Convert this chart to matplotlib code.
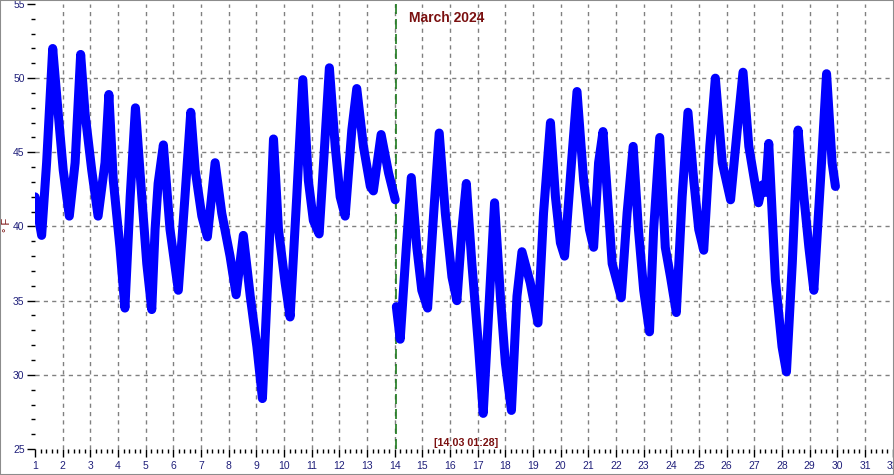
import matplotlib
matplotlib.use("Agg")
import matplotlib.pyplot as plt
from matplotlib.ticker import MultipleLocator
from matplotlib.patches import Rectangle

# ---- data (day of month, temperature in °F) ----
seg1_day = [1.00, 1.24, 1.42, 1.64, 1.84, 2.02, 2.24, 2.45, 2.65, 2.81, 3.05, 3.28,
            3.53, 3.67, 3.83, 4.07, 4.25, 4.44, 4.63, 4.86, 5.04, 5.22, 5.34, 5.45,
            5.64, 5.88, 6.18, 6.42, 6.63, 6.79, 7.03, 7.23, 7.51, 7.75, 8.05, 8.27,
            8.53, 8.78, 9.02, 9.22, 9.44, 9.62, 9.80, 10.04, 10.22, 10.46, 10.68,
            10.88, 11.06, 11.27, 11.43, 11.64, 11.85, 12.03, 12.21, 12.45, 12.63,
            12.87, 13.12, 13.23, 13.51, 13.78, 14.02]
seg1_temp = [42.0, 39.4, 44.3, 52.0, 47.6, 43.8, 40.7, 44.3, 51.6, 47.6, 43.8, 40.7,
             44.3, 48.9, 43.1, 38.6, 34.5, 42.0, 48.0, 42.0, 37.5, 34.4, 39.8, 42.9,
             45.5, 39.8, 35.7, 42.0, 47.7, 43.8, 40.7, 39.3, 44.3, 40.9, 38.0, 35.4,
             39.4, 35.3, 31.9, 28.4, 37.5, 45.9, 39.8, 36.2, 33.9, 42.0, 49.9,
             43.1, 40.4, 39.5, 44.3, 50.7, 45.4, 42.0, 40.7, 46.5, 49.3,
             45.4, 42.7, 42.4, 46.2, 43.6, 41.8]
seg2_day = [14.06, 14.20, 14.42, 14.60, 14.80, 14.98, 15.19, 15.41, 15.61, 15.83,
            16.07, 16.25, 16.43, 16.59, 16.79, 17.03, 17.20, 17.46, 17.61, 17.82,
            18.00, 18.22, 18.42, 18.60, 18.90, 19.18, 19.38, 19.63, 19.81, 19.99,
            20.14, 20.39, 20.59, 20.83, 21.04, 21.19, 21.37, 21.53, 21.86, 22.19,
            22.40, 22.62, 22.81, 23.00, 23.21, 23.36, 23.58, 23.78, 23.97, 24.18,
            24.39, 24.60, 24.81, 24.99, 25.17, 25.39, 25.59, 25.84, 26.14, 26.38,
            26.59, 26.80, 27.04, 27.15, 27.29, 27.40, 27.52, 27.76, 28.00, 28.16,
            28.37, 28.58, 28.79, 28.97, 29.15, 29.39, 29.61, 29.81, 29.93]
seg2_temp = [34.6, 32.4, 38.6, 43.3, 38.6, 35.7, 34.5, 40.9, 46.3, 40.9,
             36.6, 35.0, 39.8, 42.9, 37.5, 31.9, 27.4, 36.4, 41.6, 35.3,
             30.8, 27.6, 35.3, 38.3, 36.2, 33.5, 40.9, 47.0, 42.0, 38.9,
             38.0, 44.3, 49.1, 43.1, 39.8, 38.6, 44.3, 46.4, 37.5, 35.2,
             40.9, 45.4, 39.8, 35.7, 32.9, 39.8, 46.0, 38.6, 36.6, 34.2,
             42.0, 47.7, 43.1, 39.8, 38.4, 45.4, 50.0, 44.3, 41.8, 46.5,
             50.4, 45.4, 42.7, 41.6, 42.8, 42.3, 45.6, 36.4, 31.9, 30.2,
             37.5, 46.5, 42.0, 38.6, 35.7, 43.1, 50.3, 44.3, 42.7]
x_ticks = list(range(1, 33))
y_ticks = [25, 30, 35, 40, 45, 50, 55]
marker_day = 14.06
title_text = "March 2024"
marker_text = "[14.03 01:28]"
unit_text = "° F"

W, H = 894, 475
fig = plt.figure(figsize=(W / 100, H / 100), dpi=100)
fig.patch.set_facecolor("white")
fig.patches.append(Rectangle((0, 0), 1, 1, transform=fig.transFigure, fill=False,
                             edgecolor="#8c8c8c", linewidth=1.5))

ax = fig.add_axes([35 / W, 1 - 449 / H, (892.7 - 35) / W, (449 - 4) / H])
ax.set_xlim(1, 32)
ax.set_ylim(25, 55)
for s in ax.spines.values():
    s.set_visible(False)

tick_color = "#1f1f7a"
ax.set_xticks(x_ticks)
ax.set_yticks(y_ticks)
ax.xaxis.set_minor_locator(MultipleLocator(0.2))
ax.yaxis.set_minor_locator(MultipleLocator(1))
ax.tick_params(axis="both", which="major", length=6, width=1, color="black",
               labelcolor=tick_color, labelsize=7.5)
ax.tick_params(axis="both", which="minor", length=3, width=1, color="black")
ax.tick_params(axis="y", pad=1.5)
ax.tick_params(axis="x", pad=2.5)
for lbl in ax.get_xticklabels() + ax.get_yticklabels():
    lbl.set_fontfamily("Liberation Sans")

grid_kw = dict(color="#808080", linewidth=1, linestyle=(0, (3, 3)))
for d in x_ticks[1:-1]:
    ax.axvline(d, **grid_kw, zorder=1)
for v in [30, 35, 40, 45, 50]:
    ax.axhline(v, **grid_kw, zorder=1)

ax.axvline(marker_day, color="#1e7a1e", linewidth=1.2, linestyle=(0, (6, 3)), zorder=2)

line_kw = dict(color="#0000ff", linewidth=6.5, solid_capstyle="round",
               solid_joinstyle="round", zorder=3)
ax.plot(seg1_day, seg1_temp, **line_kw)
ax.plot(seg2_day, seg2_temp, **line_kw)

fig.text(447 / W, 1 - 18 / H, title_text, ha="center", va="center",
         fontsize=10, fontweight="bold", color="#7a1010", family="Liberation Sans")
fig.text(466 / W, 1 - 443 / H, marker_text, ha="center", va="center",
         fontsize=7.7, fontweight="bold", color="#7a1010", family="Liberation Sans")
fig.text(7 / W, 1 - 225 / H, unit_text, ha="center", va="center", rotation=90,
         fontsize=8, color="#7a1010", family="Liberation Sans")

fig.savefig("out.png", dpi=100)
